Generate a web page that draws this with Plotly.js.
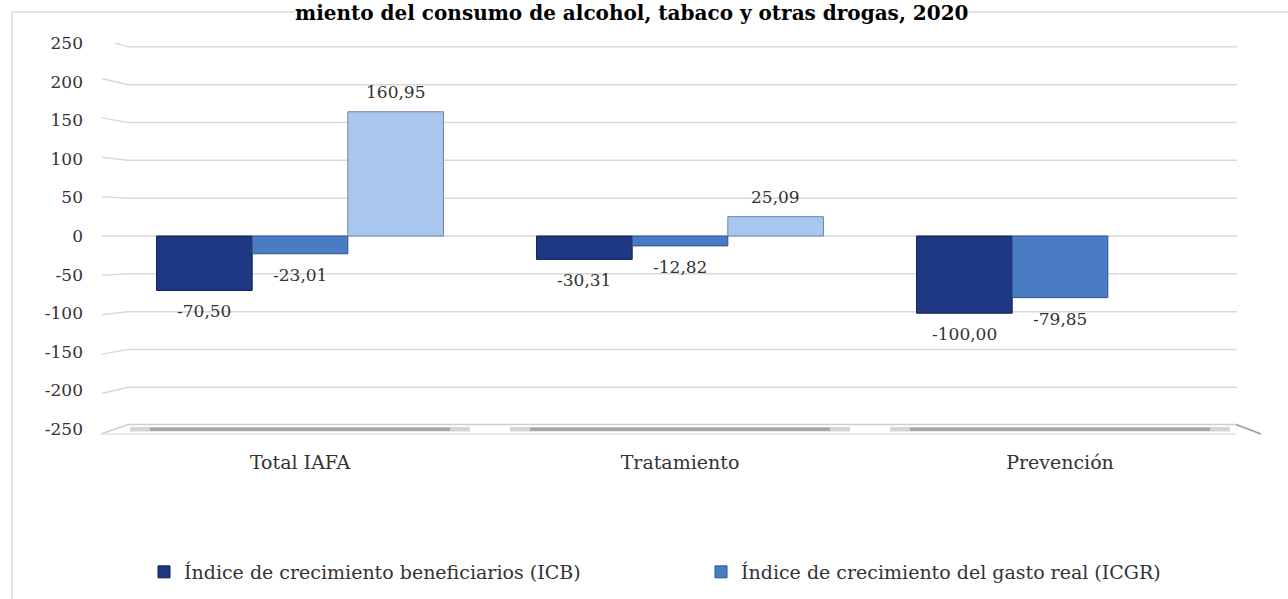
<!DOCTYPE html>
<html>
<head>
<meta charset="utf-8">
<script src="https://cdn.plot.ly/plotly-3.0.1.min.js"></script>
<style>
  html, body { margin: 0; padding: 0; background: #ffffff; }
  #chart { width: 1288px; height: 599px; }
</style>
</head>
<body>
<div id="chart"></div>
<script>
// ---- Data ----
const categories = ["Total IAFA", "Tratamiento", "Prevención"];
const seriesNames = [
  "Índice de crecimiento beneficiarios (ICB)",
  "Índice de crecimiento del gasto real (ICGR)",
  "Índice de crecimiento del gasto real por beneficiario"
];
const icb  = [-70.50, -30.31, -100.00];
const icgr = [-23.01, -12.82, -79.85];
const third = [160.95, 25.09, null];
const yTicks = [250, 200, 150, 100, 50, 0, -50, -100, -150, -200, -250];
const titleText = "miento del consumo de alcohol, tabaco y otras drogas, 2020";

// ---- Layout geometry ----
const W = 1288, H = 599;
const M = { l: 110, r: 38, t: 43, b: 170 };
const plotW = W - M.l - M.r, plotH = H - M.t - M.b;
const px2x = px => (px - M.l) / plotW;
const py2y = py => (H - M.b - py) / plotH;

const FONT = "DejaVu Serif";
const colors = ["#1e3884", "#4a7cc3", "#a9c6ee"];
const sideColors = ["#0f1f50", "#2d5490", "#6b86ad"];
const allSeries = [icb, icgr, third];

const traces = allSeries.map((vals, i) => ({
  type: "bar",
  x: categories,
  y: vals,
  name: seriesNames[i],
  showlegend: i < 2,
  marker: { color: colors[i], line: { color: sideColors[i], width: 1 } },
  hoverinfo: "skip"
}));

// ---- Shapes: gridlines (3D look), floor, outer border ----
const shapes = [];
const grid = "#d9d9d9";
yTicks.forEach(v => {
  if (v === -250) return;
  shapes.push({ type: "line", xref: "paper", yref: "y", x0: px2x(128), x1: px2x(1237), y0: v * 0.98, y1: v * 0.98,
    line: { color: grid, width: 1.5 }, layer: "below" });
  shapes.push({ type: "line", xref: "paper", yref: "y", x0: px2x(102), x1: px2x(128), y0: v * 1.02, y1: v * 0.98,
    line: { color: grid, width: 1.5 }, layer: "below" });
});
// floor
shapes.push({ type: "line", xref: "paper", yref: "paper", x0: px2x(128), x1: px2x(1236), y0: py2y(424.5), y1: py2y(424.5),
  line: { color: "#cfcfcf", width: 1.5 }, layer: "below" });
shapes.push({ type: "line", xref: "paper", yref: "paper", x0: px2x(101), x1: px2x(128), y0: py2y(434), y1: py2y(424.5),
  line: { color: "#cfcfcf", width: 1.5 }, layer: "below" });
shapes.push({ type: "line", xref: "paper", yref: "paper", x0: px2x(1236), x1: px2x(1261), y0: py2y(424.5), y1: py2y(434),
  line: { color: "#9a9a9a", width: 1.5 }, layer: "below" });
shapes.push({ type: "line", xref: "paper", yref: "paper", x0: px2x(101), x1: px2x(1236), y0: py2y(434), y1: py2y(434),
  line: { color: "#e2e2e2", width: 1.5 }, layer: "below" });
// floor shadow bands under each category group
categories.forEach((c, i) => {
  const cx = M.l + plotW * (i + 0.5) / categories.length;
  shapes.push({ type: "rect", xref: "paper", yref: "paper", x0: px2x(cx - 170), x1: px2x(cx + 170),
    y0: py2y(431.5), y1: py2y(427), fillcolor: "#d6d6d6", line: { width: 0 }, layer: "below" });
  shapes.push({ type: "rect", xref: "paper", yref: "paper", x0: px2x(cx - 150), x1: px2x(cx + 150),
    y0: py2y(431), y1: py2y(427.5), fillcolor: "#a5a5a5", line: { width: 0 }, layer: "below" });
});
// outer chart border
shapes.push({ type: "line", xref: "paper", yref: "paper", x0: px2x(12), x1: px2x(12), y0: py2y(12), y1: py2y(H + 5),
  line: { color: "#d9d9d9", width: 1.5 } });
shapes.push({ type: "line", xref: "paper", yref: "paper", x0: px2x(12), x1: px2x(W + 5), y0: py2y(12), y1: py2y(12),
  line: { color: "#d9d9d9", width: 1.5 } });

// ---- Data label annotations ----
const annotations = [];
const groupW = plotW / categories.length;
const barW = groupW * (1 - 0.245) / 3;
allSeries.forEach((vals, i) => {
  vals.forEach((v, j) => {
    if (v === null) return;
    annotations.push({
      x: categories[j], y: v, xref: "x", yref: "y",
      text: v.toFixed(2).replace(".", ","),
      showarrow: false, xshift: (i - 1) * barW, yshift: v >= 0 ? 20 : -21,
      yanchor: "middle", xanchor: "center",
      font: { family: FONT, size: 17, color: "#333333" }
    });
  });
});
annotations.push({
  xref: "paper", yref: "paper", x: px2x(631), y: py2y(0), xanchor: "center", yanchor: "top",
  text: "<b>" + titleText + "</b>", showarrow: false, bgcolor: "#ffffff", borderpad: 0,
  font: { family: FONT, size: 20, color: "#000000" }
});

const layout = {
  width: W, height: H,
  margin: M,
  paper_bgcolor: "#ffffff", plot_bgcolor: "rgba(0,0,0,0)",
  barmode: "group", bargap: 0.245, bargroupgap: 0,
  xaxis: {
    type: "category", showgrid: false, zeroline: false, showline: false, ticks: "",
    tickfont: { family: FONT, size: 19, color: "#333333" }, ticklabelstandoff: 20, automargin: false
  },
  yaxis: {
    range: [-250, 250], tickvals: yTicks, ticktext: yTicks.map(String),
    showgrid: false, zeroline: false, showline: false, ticks: "",
    tickfont: { family: FONT, size: 17, color: "#333333" }, ticklabelstandoff: 26, automargin: false
  },
  showlegend: true,
  legend: {
    orientation: "h", xref: "container", yref: "container",
    x: 144 / W, xanchor: "left", y: (H - 553) / H, yanchor: "top",
    font: { family: FONT, size: 19, color: "#333333" }, entrywidth: 512, entrywidthmode: "pixels",
    traceorder: "normal", itemclick: false, itemdoubleclick: false
  },
  shapes: shapes,
  annotations: annotations
};

Plotly.newPlot("chart", traces, layout, { displayModeBar: false, staticPlot: true });
</script>
</body>
</html>
